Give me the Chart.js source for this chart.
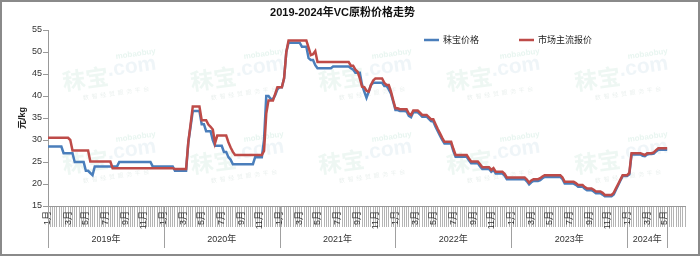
<!DOCTYPE html>
<html lang="zh">
<head>
  <meta charset="UTF-8">
  <title>2019-2024年VC原粉价格走势</title>
  <script src="https://cdn.jsdelivr.net/npm/chart.js"></script>
  <style>
    body { margin: 0; background: #fff; }
    #wrap { width: 700px; height: 256px; }
  </style>
</head>
<body>
  <div id="wrap"><canvas id="vcChart" width="700" height="256"></canvas></div>
  <script>
    // weekly prices, 52 weeks per year
    const years = ['2019年', '2020年', '2021年', '2022年', '2023年', '2024年'];
    const monthNames = ['1月', '3月', '5月', '7月', '9月', '11月'];
    const monthWeeks = [0, 9, 17, 26, 35, 43];
    const weeksPerYear = 52;
    const extraWeeks = 8; // empty slots after last data

    const blue2019 = [28.5, 28.5, 28.5, 28.5, 28.5, 28.5, 28.5, 27, 27, 27, 27, 27, 25, 25, 25, 25, 25, 23, 23, 22.5, 22, 24, 24, 24, 24, 24, 24, 24, 24, 24, 24, 24, 25, 25, 25, 25, 25, 25, 25, 25, 25, 25, 25, 25, 25, 25, 25, 24, 24, 24, 24, 24];
    const blue2020 = [24, 24, 24, 24, 24, 23, 23, 23, 23, 23, 23, 29.5, 33, 36.6, 36.6, 36.6, 36.6, 33.6, 33.6, 32, 32, 32, 30, 28.7, 28.7, 28.7, 28.7, 27.3, 27.3, 26.1, 25.5, 24.5, 24.5, 24.5, 24.5, 24.5, 24.5, 24.5, 24.5, 24.5, 24.5, 26.1, 26.1, 26.1, 26.1, 30, 40, 40, 39.3, 39.3, 40.2, 41.5];
    const blue2021 = [42, 42, 44, 50, 52.1, 52.1, 52.1, 52.1, 52.1, 52.1, 51.2, 51.2, 51.2, 48.6, 48.2, 48.2, 47, 46.3, 46.3, 46.3, 46.3, 46.3, 46.3, 46.3, 46.7, 46.7, 46.7, 46.7, 46.7, 46.7, 46.7, 46.7, 46.3, 46, 45.3, 45.3, 45.3, 42.5, 41, 39.6, 41, 42.5, 43, 43, 43, 43, 43, 42.3, 42.3, 41.5, 40.5, 38.7];
    const blue2022 = [36.8, 36.8, 36.6, 36.6, 36.6, 36.5, 35.5, 35.2, 36.3, 36.3, 36.3, 35.8, 35.3, 35.3, 35.3, 34.8, 34.3, 34.2, 33, 32, 31, 30, 29.2, 29.2, 29.2, 29.2, 27.5, 26.2, 26.2, 26.2, 26.2, 26.2, 26.2, 25.4, 24.7, 24.7, 24.7, 24.7, 24, 23.4, 23.4, 23.4, 23.4, 22.8, 23.2, 22.4, 22.4, 22.4, 22.4, 21.9, 21.1, 21.1];
    const blue2023 = [21.1, 21.1, 21.1, 21.1, 21.1, 21.1, 21.1, 20.6, 19.9, 20.4, 20.7, 20.7, 20.7, 20.9, 21.3, 21.6, 21.6, 21.6, 21.6, 21.6, 21.6, 21.6, 21.6, 21.1, 20.1, 20.1, 20.1, 20.1, 20.1, 19.8, 19.4, 19.4, 19.4, 18.9, 18.6, 18.6, 18.6, 18.3, 17.9, 17.9, 17.9, 17.6, 17.2, 17.2, 17.2, 17.2, 17.6, 18.7, 19.7, 20.8, 21.8, 21.8];
    const blue2024 = [21.8, 22.2, 26.7, 26.7, 26.7, 26.7, 26.7, 26.4, 26.3, 26.7, 26.8, 26.8, 26.9, 27.4, 27.8, 27.8, 27.8, 27.8, 27.8];

    const red2019 = [30.5, 30.5, 30.5, 30.5, 30.5, 30.5, 30.5, 30.5, 30.5, 30.5, 30, 27.6, 27.6, 27.6, 27.6, 27.6, 27.6, 27.6, 27.6, 25.1, 25.1, 25.1, 25.1, 25.1, 25.1, 25.1, 25.1, 25.1, 25.1, 23.6, 23.6, 23.6, 23.6, 23.6, 23.6, 23.6, 23.6, 23.6, 23.6, 23.6, 23.6, 23.6, 23.6, 23.6, 23.6, 23.6, 23.6, 23.6, 23.6, 23.6, 23.6, 23.6];
    const red2020 = [23.6, 23.6, 23.6, 23.6, 23.6, 23.4, 23.4, 23.4, 23.4, 23.4, 23.4, 29.5, 33.5, 37.6, 37.6, 37.6, 37.6, 34.5, 34.5, 34.5, 33.5, 33, 32.4, 29.3, 31, 31, 31, 31, 31, 29.5, 28.3, 27.3, 26.6, 26.6, 26.6, 26.6, 26.6, 26.6, 26.6, 26.6, 26.6, 26.6, 26.6, 26.6, 26.6, 27.5, 36, 39, 39, 39, 40.5, 42];
    const red2021 = [42, 42, 44, 50, 52.6, 52.6, 52.6, 52.6, 52.6, 52.6, 52.6, 52.6, 52.6, 51, 49.3, 49.5, 50.2, 47.7, 47.7, 47.7, 47.7, 47.7, 47.7, 47.7, 47.7, 47.7, 47.7, 47.7, 47.7, 47.7, 47.7, 47.7, 46.9, 46.9, 46, 45.5, 44, 42.1, 42, 41.2, 41, 42.5, 43.5, 44, 44, 44, 44, 43, 42.5, 42.5, 41, 39];
    const red2022 = [37.2, 37.2, 37, 37, 37, 37, 36, 35.7, 36.7, 36.7, 36.7, 36.2, 35.7, 35.7, 35.7, 35.2, 34.7, 34.7, 33.6, 32.5, 31.5, 30.5, 29.6, 29.6, 29.6, 29.6, 28, 26.6, 26.6, 26.6, 26.6, 26.6, 26.6, 25.8, 25.1, 25.1, 25.1, 25.1, 24.5, 23.8, 23.8, 23.8, 23.8, 23.2, 23.6, 22.8, 22.8, 22.8, 22.8, 22.3, 21.5, 21.5];
    const red2023 = [21.5, 21.5, 21.5, 21.5, 21.5, 21.5, 21.5, 21, 20.3, 20.8, 21.1, 21.1, 21.1, 21.3, 21.7, 22, 22, 22, 22, 22, 22, 22, 22, 21.5, 20.5, 20.5, 20.5, 20.5, 20.5, 20.2, 19.8, 19.8, 19.8, 19.3, 19, 19, 19, 18.7, 18.3, 18.3, 18.3, 18, 17.5, 17.5, 17.5, 17.5, 18, 19, 20, 21, 22, 22];
    const red2024 = [22, 22.5, 27, 27, 27, 27, 27, 26.8, 26.6, 27, 27, 27, 27.2, 27.7, 28.1, 28.1, 28.1, 28.1, 28.1];

    const blueSeries = [].concat(blue2019, blue2020, blue2021, blue2022, blue2023, blue2024);
    const redSeries = [].concat(red2019, red2020, red2021, red2022, red2023, red2024);
    const dataLen = blueSeries.length;
    const total = dataLen + extraWeeks;

    // x labels: month name on the first week of odd months
    const labels = new Array(total).fill('');
    years.forEach((y, k) => {
      monthWeeks.forEach((w, j) => {
        const i = k * weeksPerYear + w;
        if (i < dataLen) labels[i] = monthNames[j];
      });
    });
    while (blueSeries.length < total) { blueSeries.push(null); redSeries.push(null); }

    const FONT = 'Liberation Sans, Arial, "Noto Sans CJK SC", sans-serif';

    const frame = {
      id: 'frame',
      beforeDraw(chart) {
        const c = chart.ctx;
        c.save();
        c.fillStyle = '#fff';
        c.fillRect(0, 0, chart.width, chart.height);
        c.restore();
      },
      afterDraw(chart) {
        const c = chart.ctx;
        c.save();
        c.strokeStyle = '#8a8a8a';
        c.lineWidth = 2;
        c.strokeRect(1, 1, chart.width - 2, chart.height - 2);
        c.restore();
      }
    };

    // faint site watermark
    const watermark = {
      id: 'watermark',
      beforeDatasetsDraw(chart) {
        const c = chart.ctx;
        c.save();
        for (let r = 0; r < 2; r++) {
          for (let k = 0; k < 5; k++) {
            const cx = 110 + 128 * k, cy = r ? 157 : 74;
            c.save();
            c.translate(cx, cy);
            c.rotate(-0.14);
            c.textBaseline = 'alphabetic';
            c.font = 'bold 23px "Noto Sans CJK SC", sans-serif';
            c.fillStyle = 'rgba(120, 195, 165, 0.13)';
            c.fillText('秣宝', -48, 10);
            c.font = 'bold 21px ' + FONT;
            c.fillStyle = 'rgba(150, 185, 205, 0.15)';
            c.fillText('.com', -2, 2);
            c.font = 'bold 8px ' + FONT;
            c.fillStyle = 'rgba(130, 200, 170, 0.18)';
            c.fillText('mobaobuy', 8, -14);
            c.font = '6px "Noto Sans CJK SC", sans-serif';
            c.fillStyle = 'rgba(150, 180, 170, 0.2)';
            c.fillText('数  智  经  贸  服  务  平  台', -30, 22);
            c.restore();
          }
        }
        c.restore();
      }
    };

    // year group row under the month labels
    const yearRow = {
      id: 'yearRow',
      afterDraw(chart) {
        const x = chart.scales.x;
        const c = chart.ctx;
        const top = x.top, bottom = x.top + 42;
        c.save();
        c.strokeStyle = '#a0a0a0';
        c.lineWidth = 1;
        c.fillStyle = '#333';
        c.font = '9px ' + FONT;
        c.textAlign = 'center';
        c.textBaseline = 'middle';
        const starts = years.map((y, k) => k * weeksPerYear);
        const ends = starts.slice(1).concat([dataLen - 1]);
        starts.concat([dataLen - 1]).forEach(i => {
          const px = Math.round(x.getPixelForValue(i)) + 0.5;
          c.beginPath(); c.moveTo(px, top); c.lineTo(px, bottom); c.stroke();
        });
        years.forEach((y, k) => {
          const mid = (x.getPixelForValue(starts[k]) + x.getPixelForValue(ends[k])) / 2;
          c.fillText(y, mid, top + 34);
        });
        c.restore();
      }
    };

    // legend drawn inside the plot area, top right
    const legendBox = {
      id: 'legendBox',
      afterDraw(chart) {
        const c = chart.ctx;
        const spots = [424, 519];
        c.save();
        c.font = '9px ' + FONT;
        c.textBaseline = 'middle';
        c.fillStyle = '#222';
        chart.data.datasets.forEach((ds, i) => {
          const lx = spots[i], ly = 40;
          c.strokeStyle = ds.borderColor;
          c.lineWidth = 2.5;
          c.beginPath(); c.moveTo(lx, ly); c.lineTo(lx + 15, ly); c.stroke();
          c.fillText(ds.label, lx + 19, ly + 0.5);
        });
        c.restore();
      }
    };

    new Chart(document.getElementById('vcChart'), {
      type: 'line',
      data: {
        labels: labels,
        datasets: [
          {
            label: '秣宝价格',
            data: blueSeries,
            borderColor: '#4a7ebb',
            borderWidth: 2.5,
            pointRadius: 0,
            order: 1
          },
          {
            label: '市场主流报价',
            data: redSeries,
            borderColor: '#be4b48',
            borderWidth: 2.5,
            pointRadius: 0,
            order: 0
          }
        ]
      },
      options: {
        responsive: false,
        devicePixelRatio: 1,
        animation: false,
        layout: { padding: { left: 0, right: 15, top: 0, bottom: 0 } },
        plugins: {
          legend: { display: false },
          tooltip: { enabled: false },
          title: {
            display: true,
            text: '2019-2024年VC原粉价格走势',
            color: '#111',
            font: { family: FONT, size: 11, weight: 'bold' },
            padding: { top: 6, bottom: 10.8 }
          }
        },
        scales: {
          x: {
            type: 'category',
            offset: false,
            afterFit(s) { s.height = 50; },
            border: { color: '#999' },
            grid: {
              drawOnChartArea: false,
              drawTicks: true,
              tickLength: 21,
              color: '#b4b4b4'
            },
            ticks: {
              autoSkip: false,
              maxRotation: 90,
              minRotation: 90,
              padding: -16,
              color: '#333',
              font: { family: FONT, size: 9 }
            }
          },
          y: {
            min: 15,
            max: 55,
            afterFit(s) { s.width = 48; },
            border: { color: '#999' },
            grid: {
              drawOnChartArea: false,
              drawTicks: true,
              tickLength: 5,
              color: '#999'
            },
            ticks: {
              stepSize: 5,
              padding: 1,
              color: '#333',
              font: { family: FONT, size: 9 }
            },
            title: {
              display: true,
              text: '元/kg',
              color: '#222',
              font: { family: FONT, size: 9, weight: 'bold' },
              padding: { top: 17, bottom: 0 }
            }
          }
        }
      },
      plugins: [frame, watermark, yearRow, legendBox]
    });
  </script>
</body>
</html>
